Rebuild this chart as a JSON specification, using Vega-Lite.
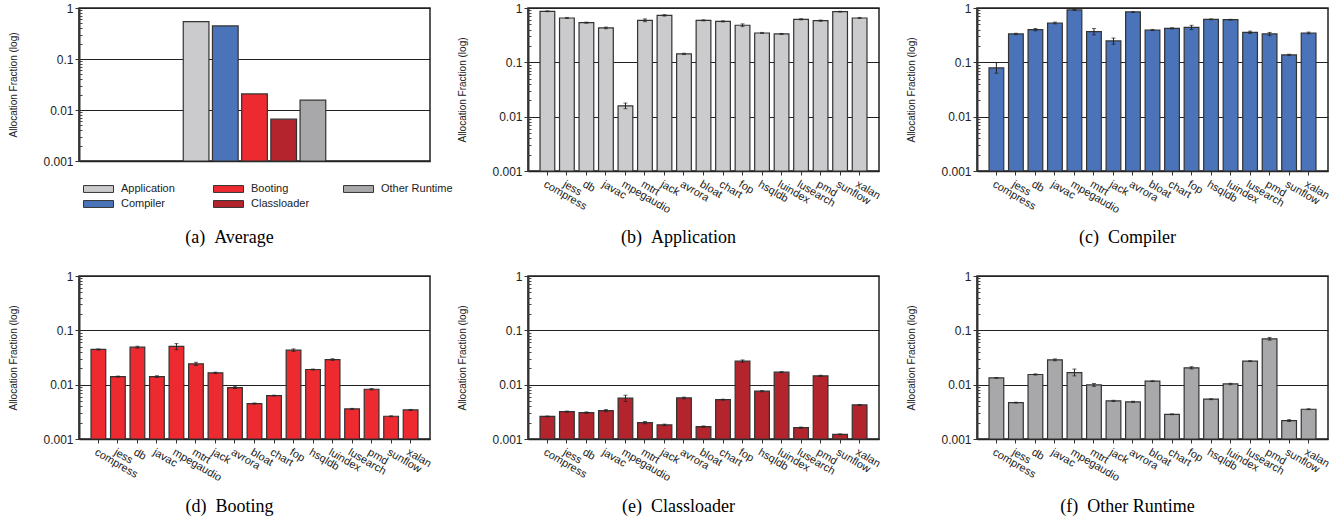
{
  "$schema": "https://vega.github.io/schema/vega-lite/v6.json",
  "padding": {"left": 7, "top": 1, "right": 5, "bottom": 5},
  "bounds": "flush",
  "columns": 3,
  "spacing": {"row": 105, "column": 98},
  "config": {
    "font": "Liberation Sans",
    "view": {"stroke": "#222", "strokeWidth": 1.5},
    "axis": {"labelColor": "#222", "tickColor": "#333", "domainColor": "#222"},
    "tick": {"thickness": 1}
  },
  "datasets": {
    "avg": [
      {"category": "Application", "value": 0.54},
      {"category": "Compiler", "value": 0.445},
      {"category": "Booting", "value": 0.0207},
      {"category": "Classloader", "value": 0.0066},
      {"category": "Other Runtime", "value": 0.0156}
    ],
    "application": [
      {"bench": "compress", "value": 0.87, "lo": 0.855, "hi": 0.885},
      {"bench": "jess", "value": 0.655, "lo": 0.64, "hi": 0.67},
      {"bench": "db", "value": 0.538, "lo": 0.525, "hi": 0.55},
      {"bench": "javac", "value": 0.43, "lo": 0.415, "hi": 0.445},
      {"bench": "mpegaudio", "value": 0.0158, "lo": 0.014, "hi": 0.0178},
      {"bench": "mtrt", "value": 0.593, "lo": 0.56, "hi": 0.63},
      {"bench": "jack", "value": 0.733, "lo": 0.71, "hi": 0.755},
      {"bench": "avrora", "value": 0.143, "lo": 0.139, "hi": 0.147},
      {"bench": "bloat", "value": 0.593, "lo": 0.58, "hi": 0.605},
      {"bench": "chart", "value": 0.569, "lo": 0.555, "hi": 0.58},
      {"bench": "fop", "value": 0.481, "lo": 0.455, "hi": 0.51},
      {"bench": "hsqldb", "value": 0.347, "lo": 0.34, "hi": 0.355},
      {"bench": "luindex", "value": 0.333, "lo": 0.325, "hi": 0.34},
      {"bench": "lusearch", "value": 0.619, "lo": 0.605, "hi": 0.635},
      {"bench": "pmd", "value": 0.585, "lo": 0.57, "hi": 0.6},
      {"bench": "sunflow", "value": 0.857, "lo": 0.845, "hi": 0.87},
      {"bench": "xalan", "value": 0.655, "lo": 0.64, "hi": 0.67}
    ],
    "compiler": [
      {"bench": "compress", "value": 0.079, "lo": 0.063, "hi": 0.099},
      {"bench": "jess", "value": 0.333, "lo": 0.323, "hi": 0.343},
      {"bench": "db", "value": 0.4, "lo": 0.38, "hi": 0.42},
      {"bench": "javac", "value": 0.53, "lo": 0.51, "hi": 0.55},
      {"bench": "mpegaudio", "value": 0.92, "lo": 0.91, "hi": 0.93},
      {"bench": "mtrt", "value": 0.367, "lo": 0.32, "hi": 0.42},
      {"bench": "jack", "value": 0.248, "lo": 0.215, "hi": 0.28},
      {"bench": "avrora", "value": 0.845, "lo": 0.835, "hi": 0.855},
      {"bench": "bloat", "value": 0.394, "lo": 0.385, "hi": 0.403},
      {"bench": "chart", "value": 0.423, "lo": 0.413, "hi": 0.433},
      {"bench": "fop", "value": 0.441, "lo": 0.4, "hi": 0.48},
      {"bench": "hsqldb", "value": 0.62, "lo": 0.61, "hi": 0.63},
      {"bench": "luindex", "value": 0.61, "lo": 0.6, "hi": 0.62},
      {"bench": "lusearch", "value": 0.357, "lo": 0.34, "hi": 0.375},
      {"bench": "pmd", "value": 0.333, "lo": 0.31, "hi": 0.355},
      {"bench": "sunflow", "value": 0.137, "lo": 0.133, "hi": 0.141},
      {"bench": "xalan", "value": 0.347, "lo": 0.335, "hi": 0.36}
    ],
    "booting": [
      {"bench": "compress", "value": 0.0445, "lo": 0.0435, "hi": 0.0455},
      {"bench": "jess", "value": 0.0141, "lo": 0.0138, "hi": 0.0144},
      {"bench": "db", "value": 0.049, "lo": 0.047, "hi": 0.051},
      {"bench": "javac", "value": 0.0141, "lo": 0.0136, "hi": 0.0146},
      {"bench": "mpegaudio", "value": 0.0505, "lo": 0.044, "hi": 0.057},
      {"bench": "mtrt", "value": 0.0242, "lo": 0.0226, "hi": 0.0258},
      {"bench": "jack", "value": 0.0165, "lo": 0.016, "hi": 0.017},
      {"bench": "avrora", "value": 0.00885, "lo": 0.0085, "hi": 0.0092},
      {"bench": "bloat", "value": 0.00449, "lo": 0.0044, "hi": 0.0046},
      {"bench": "chart", "value": 0.0063, "lo": 0.0062, "hi": 0.0064},
      {"bench": "fop", "value": 0.0432, "lo": 0.041, "hi": 0.0455},
      {"bench": "hsqldb", "value": 0.019, "lo": 0.0186, "hi": 0.0194},
      {"bench": "luindex", "value": 0.029, "lo": 0.028, "hi": 0.03},
      {"bench": "lusearch", "value": 0.00358, "lo": 0.0035, "hi": 0.00366},
      {"bench": "pmd", "value": 0.00824, "lo": 0.008, "hi": 0.0085},
      {"bench": "sunflow", "value": 0.00262, "lo": 0.00257, "hi": 0.00267},
      {"bench": "xalan", "value": 0.00343, "lo": 0.00336, "hi": 0.0035}
    ],
    "classloader": [
      {"bench": "compress", "value": 0.0026, "lo": 0.00256, "hi": 0.00265},
      {"bench": "jess", "value": 0.0032, "lo": 0.00313, "hi": 0.00327},
      {"bench": "db", "value": 0.00306, "lo": 0.00297, "hi": 0.00315},
      {"bench": "javac", "value": 0.00333, "lo": 0.00318, "hi": 0.00348},
      {"bench": "mpegaudio", "value": 0.00563, "lo": 0.0049, "hi": 0.0064},
      {"bench": "mtrt", "value": 0.002, "lo": 0.0019, "hi": 0.0021},
      {"bench": "jack", "value": 0.00182, "lo": 0.00176, "hi": 0.00188},
      {"bench": "avrora", "value": 0.0057, "lo": 0.0055, "hi": 0.0059},
      {"bench": "bloat", "value": 0.00169, "lo": 0.00164, "hi": 0.00174},
      {"bench": "chart", "value": 0.0053, "lo": 0.0052, "hi": 0.0054},
      {"bench": "fop", "value": 0.0271, "lo": 0.0258, "hi": 0.0285},
      {"bench": "hsqldb", "value": 0.00759, "lo": 0.0074, "hi": 0.0078},
      {"bench": "luindex", "value": 0.017, "lo": 0.0166, "hi": 0.0174},
      {"bench": "lusearch", "value": 0.00162, "lo": 0.00158, "hi": 0.00166},
      {"bench": "pmd", "value": 0.01455, "lo": 0.0142, "hi": 0.0149},
      {"bench": "sunflow", "value": 0.00122, "lo": 0.0012, "hi": 0.00124},
      {"bench": "xalan", "value": 0.00424, "lo": 0.00416, "hi": 0.00432}
    ],
    "other": [
      {"bench": "compress", "value": 0.0133, "lo": 0.0131, "hi": 0.0135},
      {"bench": "jess", "value": 0.00468, "lo": 0.0046, "hi": 0.00476},
      {"bench": "db", "value": 0.0154, "lo": 0.015, "hi": 0.0158},
      {"bench": "javac", "value": 0.0286, "lo": 0.0275, "hi": 0.0298},
      {"bench": "mpegaudio", "value": 0.0167, "lo": 0.0145, "hi": 0.0194},
      {"bench": "mtrt", "value": 0.0099, "lo": 0.0093, "hi": 0.0105},
      {"bench": "jack", "value": 0.00503, "lo": 0.0049, "hi": 0.00516},
      {"bench": "avrora", "value": 0.00482, "lo": 0.0047, "hi": 0.00495},
      {"bench": "bloat", "value": 0.0116, "lo": 0.0114, "hi": 0.0118},
      {"bench": "chart", "value": 0.00285, "lo": 0.0028, "hi": 0.0029},
      {"bench": "fop", "value": 0.0204, "lo": 0.0195, "hi": 0.0214},
      {"bench": "hsqldb", "value": 0.0054, "lo": 0.0053, "hi": 0.0055},
      {"bench": "luindex", "value": 0.0103, "lo": 0.01, "hi": 0.0106},
      {"bench": "lusearch", "value": 0.0271, "lo": 0.0266, "hi": 0.0276},
      {"bench": "pmd", "value": 0.0698, "lo": 0.066, "hi": 0.074},
      {"bench": "sunflow", "value": 0.00218, "lo": 0.0021, "hi": 0.00227},
      {"bench": "xalan", "value": 0.00353, "lo": 0.00347, "hi": 0.0036}
    ]
  },
  "concat": [
    {
      "width": 351, "height": 153,
      "data": {"name": "avg"},
      "encoding": {
        "x": {"field": "category", "type": "nominal", "sort": null,
          "scale": {"domain": ["pad1", "pad2", "pad3", "Application", "Compiler", "Booting", "Classloader", "Other Runtime", "pad4", "pad5", "pad6"], "paddingInner": 0.12, "paddingOuter": 0.57},
          "axis": {"labels": false, "ticks": false, "domainColor": "#222", "domainWidth": 1.5, "title": "(a)\u00a0\u00a0Average", "titleFont": "Liberation Serif", "titleFontSize": 18, "titleFontWeight": "normal", "titleColor": "#000", "titleX": 150, "titleY": 76, "titleBaseline": "middle", "titleAlign": "center"}}
      },
      "layer": [
        {
          "mark": {"type": "bar", "stroke": "#333", "strokeWidth": 1.2},
          "encoding": {
            "y": {"field": "value", "type": "quantitative", "scale": {"type": "log", "domain": [0.001, 1]},
              "axis": {"values": [0.001, 0.01, 0.1, 1], "format": "~g", "title": "Allocation Fraction (log)", "titleX": -61, "titleFontSize": 10, "titleFontWeight": "normal", "titleColor": "#222", "labelFontSize": 12, "tickSize": 4, "labelPadding": 2, "grid": true, "gridColor": "#222", "domainWidth": 2, "domainColor": "#333"}},
            "y2": {"datum": 0.001},
            "color": {"field": "category", "type": "nominal",
              "scale": {"domain": ["Application", "Compiler", "Booting", "Classloader", "Other Runtime"], "range": ["#cbcbcd", "#4a73ba", "#ec2a2f", "#b3242c", "#a8a8ab"]},
              "legend": {"orient": "none", "legendX": 4, "legendY": 173.5, "columns": 3, "title": null, "symbolType": "M-1,-0.23L1,-0.23L1,0.23L-1,0.23Z", "symbolSize": 900, "symbolStrokeColor": "#333", "symbolStrokeWidth": 1, "symbolOpacity": 1, "labelFontSize": 11, "labelColor": "#222", "labelOffset": 7, "columnPadding": 20, "rowPadding": 0, "clipHeight": 15, "gridAlign": "all", "padding": 0}}
          }
        },
        {
          "mark": {"type": "point", "opacity": 0},
          "encoding": {
            "y": {"field": "value", "type": "quantitative",
              "axis": {"orient": "left", "values": [0.002, 0.003, 0.004, 0.005, 0.006, 0.007, 0.008, 0.009, 0.02, 0.03, 0.04, 0.05, 0.06, 0.07, 0.08, 0.09, 0.2, 0.3, 0.4, 0.5, 0.6, 0.7, 0.8, 0.9], "labels": false, "grid": false, "domain": false, "title": null, "tickSize": -3, "tickColor": "#444"}}
          }
        }
      ],
      "resolve": {"axis": {"y": "independent"}}
    },
    {
      "width": 351, "height": 163,
      "data": {"name": "application"},
      "encoding": {
        "x": {"field": "bench", "type": "nominal", "sort": null,
          "scale": {"paddingInner": 0.245, "paddingOuter": 0.616},
          "axis": {"labelAngle": 30, "labelAlign": "left", "labelBaseline": "top", "labelFontSize": 11, "labelPadding": 3, "labelOverlap": false, "tickSize": 4, "domainWidth": 1.5, "title": "(b)\u00a0\u00a0Application", "titleFont": "Liberation Serif", "titleFontSize": 18, "titleFontWeight": "normal", "titleColor": "#000", "titleX": 150, "titleY": 66, "titleBaseline": "middle", "titleAlign": "center"}}
      },
      "layer": [
        {"mark": {"type": "bar", "fill": "#cbcbcd", "stroke": "#333", "strokeWidth": 1.2},
          "encoding": {"y": {"field": "value", "type": "quantitative", "scale": {"type": "log", "domain": [0.001, 1]},
            "axis": {"values": [0.001, 0.01, 0.1, 1], "format": "~g", "title": "Allocation Fraction (log)", "titleX": -61, "titleFontSize": 10, "titleFontWeight": "normal", "titleColor": "#222", "labelFontSize": 12, "tickSize": 4, "labelPadding": 2, "grid": true, "gridColor": "#222", "domainWidth": 2, "domainColor": "#333"}},
            "y2": {"datum": 0.001}}},
        {"mark": {"type": "rule", "color": "#222", "strokeWidth": 1},
          "encoding": {"y": {"field": "lo", "type": "quantitative",
            "axis": {"orient": "left", "values": [0.002, 0.003, 0.004, 0.005, 0.006, 0.007, 0.008, 0.009, 0.02, 0.03, 0.04, 0.05, 0.06, 0.07, 0.08, 0.09, 0.2, 0.3, 0.4, 0.5, 0.6, 0.7, 0.8, 0.9], "labels": false, "grid": false, "domain": false, "title": null, "tickSize": -3, "tickColor": "#444"}},
            "y2": {"field": "hi"}}},
        {"mark": {"type": "tick", "color": "#222", "size": 4, "thickness": 1},
          "encoding": {"y": {"field": "lo", "type": "quantitative", "axis": null}}},
        {"mark": {"type": "tick", "color": "#222", "size": 4, "thickness": 1},
          "encoding": {"y": {"field": "hi", "type": "quantitative", "axis": null}}}
      ],
      "resolve": {"axis": {"y": "independent"}}
    },
    {
      "width": 351, "height": 163,
      "data": {"name": "compiler"},
      "encoding": {
        "x": {"field": "bench", "type": "nominal", "sort": null,
          "scale": {"paddingInner": 0.245, "paddingOuter": 0.616},
          "axis": {"labelAngle": 30, "labelAlign": "left", "labelBaseline": "top", "labelFontSize": 11, "labelPadding": 3, "labelOverlap": false, "tickSize": 4, "domainWidth": 1.5, "title": "(c)\u00a0\u00a0Compiler", "titleFont": "Liberation Serif", "titleFontSize": 18, "titleFontWeight": "normal", "titleColor": "#000", "titleX": 150, "titleY": 66, "titleBaseline": "middle", "titleAlign": "center"}}
      },
      "layer": [
        {"mark": {"type": "bar", "fill": "#4a73ba", "stroke": "#333", "strokeWidth": 1.2},
          "encoding": {"y": {"field": "value", "type": "quantitative", "scale": {"type": "log", "domain": [0.001, 1]},
            "axis": {"values": [0.001, 0.01, 0.1, 1], "format": "~g", "title": "Allocation Fraction (log)", "titleX": -61, "titleFontSize": 10, "titleFontWeight": "normal", "titleColor": "#222", "labelFontSize": 12, "tickSize": 4, "labelPadding": 2, "grid": true, "gridColor": "#222", "domainWidth": 2, "domainColor": "#333"}},
            "y2": {"datum": 0.001}}},
        {"mark": {"type": "rule", "color": "#222", "strokeWidth": 1},
          "encoding": {"y": {"field": "lo", "type": "quantitative",
            "axis": {"orient": "left", "values": [0.002, 0.003, 0.004, 0.005, 0.006, 0.007, 0.008, 0.009, 0.02, 0.03, 0.04, 0.05, 0.06, 0.07, 0.08, 0.09, 0.2, 0.3, 0.4, 0.5, 0.6, 0.7, 0.8, 0.9], "labels": false, "grid": false, "domain": false, "title": null, "tickSize": -3, "tickColor": "#444"}},
            "y2": {"field": "hi"}}},
        {"mark": {"type": "tick", "color": "#222", "size": 4, "thickness": 1},
          "encoding": {"y": {"field": "lo", "type": "quantitative", "axis": null}}},
        {"mark": {"type": "tick", "color": "#222", "size": 4, "thickness": 1},
          "encoding": {"y": {"field": "hi", "type": "quantitative", "axis": null}}}
      ],
      "resolve": {"axis": {"y": "independent"}}
    },
    {
      "width": 351, "height": 163,
      "data": {"name": "booting"},
      "encoding": {
        "x": {"field": "bench", "type": "nominal", "sort": null,
          "scale": {"paddingInner": 0.245, "paddingOuter": 0.616},
          "axis": {"labelAngle": 30, "labelAlign": "left", "labelBaseline": "top", "labelFontSize": 11, "labelPadding": 3, "labelOverlap": false, "tickSize": 4, "domainWidth": 1.5, "title": "(d)\u00a0\u00a0Booting", "titleFont": "Liberation Serif", "titleFontSize": 18, "titleFontWeight": "normal", "titleColor": "#000", "titleX": 150, "titleY": 67, "titleBaseline": "middle", "titleAlign": "center"}}
      },
      "layer": [
        {"mark": {"type": "bar", "fill": "#ec2a2f", "stroke": "#333", "strokeWidth": 1.2},
          "encoding": {"y": {"field": "value", "type": "quantitative", "scale": {"type": "log", "domain": [0.001, 1]},
            "axis": {"values": [0.001, 0.01, 0.1, 1], "format": "~g", "title": "Allocation Fraction (log)", "titleX": -61, "titleFontSize": 10, "titleFontWeight": "normal", "titleColor": "#222", "labelFontSize": 12, "tickSize": 4, "labelPadding": 2, "grid": true, "gridColor": "#222", "domainWidth": 2, "domainColor": "#333"}},
            "y2": {"datum": 0.001}}},
        {"mark": {"type": "rule", "color": "#222", "strokeWidth": 1},
          "encoding": {"y": {"field": "lo", "type": "quantitative",
            "axis": {"orient": "left", "values": [0.002, 0.003, 0.004, 0.005, 0.006, 0.007, 0.008, 0.009, 0.02, 0.03, 0.04, 0.05, 0.06, 0.07, 0.08, 0.09, 0.2, 0.3, 0.4, 0.5, 0.6, 0.7, 0.8, 0.9], "labels": false, "grid": false, "domain": false, "title": null, "tickSize": -3, "tickColor": "#444"}},
            "y2": {"field": "hi"}}},
        {"mark": {"type": "tick", "color": "#222", "size": 4, "thickness": 1},
          "encoding": {"y": {"field": "lo", "type": "quantitative", "axis": null}}},
        {"mark": {"type": "tick", "color": "#222", "size": 4, "thickness": 1},
          "encoding": {"y": {"field": "hi", "type": "quantitative", "axis": null}}}
      ],
      "resolve": {"axis": {"y": "independent"}}
    },
    {
      "width": 351, "height": 163,
      "data": {"name": "classloader"},
      "encoding": {
        "x": {"field": "bench", "type": "nominal", "sort": null,
          "scale": {"paddingInner": 0.245, "paddingOuter": 0.616},
          "axis": {"labelAngle": 30, "labelAlign": "left", "labelBaseline": "top", "labelFontSize": 11, "labelPadding": 3, "labelOverlap": false, "tickSize": 4, "domainWidth": 1.5, "title": "(e)\u00a0\u00a0Classloader", "titleFont": "Liberation Serif", "titleFontSize": 18, "titleFontWeight": "normal", "titleColor": "#000", "titleX": 150, "titleY": 67, "titleBaseline": "middle", "titleAlign": "center"}}
      },
      "layer": [
        {"mark": {"type": "bar", "fill": "#b3242c", "stroke": "#333", "strokeWidth": 1.2},
          "encoding": {"y": {"field": "value", "type": "quantitative", "scale": {"type": "log", "domain": [0.001, 1]},
            "axis": {"values": [0.001, 0.01, 0.1, 1], "format": "~g", "title": "Allocation Fraction (log)", "titleX": -61, "titleFontSize": 10, "titleFontWeight": "normal", "titleColor": "#222", "labelFontSize": 12, "tickSize": 4, "labelPadding": 2, "grid": true, "gridColor": "#222", "domainWidth": 2, "domainColor": "#333"}},
            "y2": {"datum": 0.001}}},
        {"mark": {"type": "rule", "color": "#222", "strokeWidth": 1},
          "encoding": {"y": {"field": "lo", "type": "quantitative",
            "axis": {"orient": "left", "values": [0.002, 0.003, 0.004, 0.005, 0.006, 0.007, 0.008, 0.009, 0.02, 0.03, 0.04, 0.05, 0.06, 0.07, 0.08, 0.09, 0.2, 0.3, 0.4, 0.5, 0.6, 0.7, 0.8, 0.9], "labels": false, "grid": false, "domain": false, "title": null, "tickSize": -3, "tickColor": "#444"}},
            "y2": {"field": "hi"}}},
        {"mark": {"type": "tick", "color": "#222", "size": 4, "thickness": 1},
          "encoding": {"y": {"field": "lo", "type": "quantitative", "axis": null}}},
        {"mark": {"type": "tick", "color": "#222", "size": 4, "thickness": 1},
          "encoding": {"y": {"field": "hi", "type": "quantitative", "axis": null}}}
      ],
      "resolve": {"axis": {"y": "independent"}}
    },
    {
      "width": 351, "height": 163,
      "data": {"name": "other"},
      "encoding": {
        "x": {"field": "bench", "type": "nominal", "sort": null,
          "scale": {"paddingInner": 0.245, "paddingOuter": 0.616},
          "axis": {"labelAngle": 30, "labelAlign": "left", "labelBaseline": "top", "labelFontSize": 11, "labelPadding": 3, "labelOverlap": false, "tickSize": 4, "domainWidth": 1.5, "title": "(f)\u00a0\u00a0Other Runtime", "titleFont": "Liberation Serif", "titleFontSize": 18, "titleFontWeight": "normal", "titleColor": "#000", "titleX": 150, "titleY": 67, "titleBaseline": "middle", "titleAlign": "center"}}
      },
      "layer": [
        {"mark": {"type": "bar", "fill": "#a8a8ab", "stroke": "#333", "strokeWidth": 1.2},
          "encoding": {"y": {"field": "value", "type": "quantitative", "scale": {"type": "log", "domain": [0.001, 1]},
            "axis": {"values": [0.001, 0.01, 0.1, 1], "format": "~g", "title": "Allocation Fraction (log)", "titleX": -61, "titleFontSize": 10, "titleFontWeight": "normal", "titleColor": "#222", "labelFontSize": 12, "tickSize": 4, "labelPadding": 2, "grid": true, "gridColor": "#222", "domainWidth": 2, "domainColor": "#333"}},
            "y2": {"datum": 0.001}}},
        {"mark": {"type": "rule", "color": "#222", "strokeWidth": 1},
          "encoding": {"y": {"field": "lo", "type": "quantitative",
            "axis": {"orient": "left", "values": [0.002, 0.003, 0.004, 0.005, 0.006, 0.007, 0.008, 0.009, 0.02, 0.03, 0.04, 0.05, 0.06, 0.07, 0.08, 0.09, 0.2, 0.3, 0.4, 0.5, 0.6, 0.7, 0.8, 0.9], "labels": false, "grid": false, "domain": false, "title": null, "tickSize": -3, "tickColor": "#444"}},
            "y2": {"field": "hi"}}},
        {"mark": {"type": "tick", "color": "#222", "size": 4, "thickness": 1},
          "encoding": {"y": {"field": "lo", "type": "quantitative", "axis": null}}},
        {"mark": {"type": "tick", "color": "#222", "size": 4, "thickness": 1},
          "encoding": {"y": {"field": "hi", "type": "quantitative", "axis": null}}}
      ],
      "resolve": {"axis": {"y": "independent"}}
    }
  ]
}
